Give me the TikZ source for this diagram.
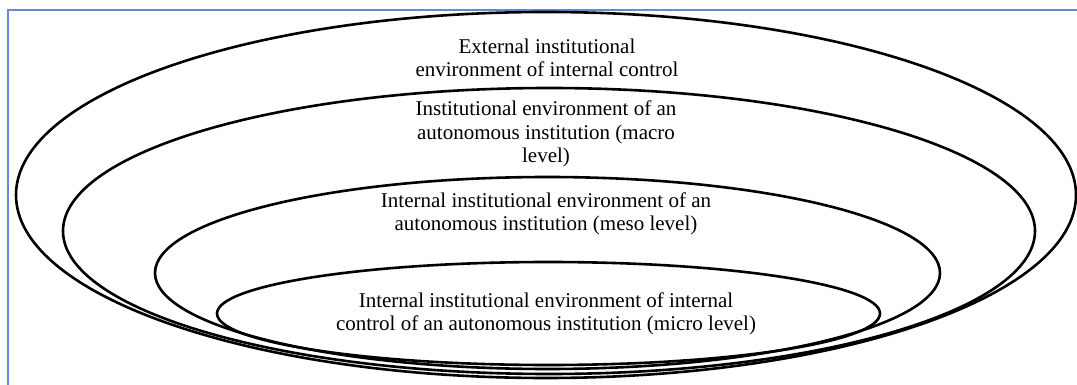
\documentclass[tikz,border=0pt]{standalone}
\usepackage{fontspec}
\setmainfont{Liberation Serif}
\definecolor{frameblue}{RGB}{100,138,212}
\tikzset{
  ring/.style={draw=black, line width=2.6pt},
  lbl/.style={align=center, font=\fontsize{21}{23.5}\selectfont, inner sep=0pt}
}
\begin{document}
\begin{tikzpicture}[x=1pt,y=-1pt]
\useasboundingbox (0,0) rectangle (1077,385);
\begin{scope}
\clip (0,0) rectangle (1077,385);
\draw[frameblue, line width=2.6pt] (8,400) -- (8,10) -- (1090,10);
\draw[ring] (546,195) ellipse [x radius=530, y radius=183];
\draw[ring] (549,231) ellipse [x radius=486, y radius=143];
\draw[ring] (547.5,273) ellipse [x radius=392.5, y radius=96];
\draw[ring] (548.5,313.5) ellipse [x radius=331.5, y radius=51.5];
\end{scope}
\node[lbl] (t1) at (547,58) {External institutional\\environment of internal control};
\node[lbl] (t2) at (546,134) {Institutional environment of an\\autonomous institution (macro\\level)};
\node[lbl] (t3) at (546,214) {Internal institutional environment of an\\autonomous institution (meso level)};
\node[lbl] (t4) at (546,314) {Internal institutional environment of internal\\control of an autonomous institution (micro level)};
\end{tikzpicture}
\end{document}
